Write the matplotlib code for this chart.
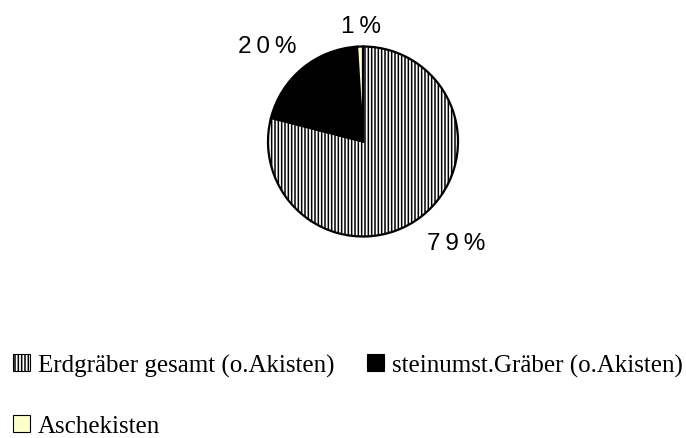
import matplotlib.pyplot as plt
from matplotlib.patches import Patch

# data
kategorien = ['Erdgräber gesamt (o.Akisten)', 'steinumst.Gräber (o.Akisten)', 'Aschekisten']
anteile = [79, 20, 1]
farben = ['white', 'black', '#FFFFCC']
schraffur = ['|||||', None, None]
# Lage der Prozentangaben (in Radien, wie im Original)
label_pos = [(0.98, -1.07), (-1.01, 1.0), (-0.02, 1.22)]

plt.rcParams['hatch.linewidth'] = 1.1

W, H = 686, 439
fig = plt.figure(figsize=(W / 100, H / 100), dpi=100)
ax = fig.add_axes([268 / W, 1 - 237.5 / H, 190 / W, 190 / H])

# gesperrte Prozentzahlen wie im Original
def prozent(p):
    return '\u2009'.join(f'{p:.0f}%')

wedges, texts, autotexts = ax.pie(
    anteile, colors=farben, startangle=90, counterclock=False,
    autopct=prozent, radius=1,
    wedgeprops=dict(edgecolor='black', linewidth=1.6),
    textprops=dict(fontsize=17.5, family='Liberation Sans'))
for w, h in zip(wedges, schraffur):
    if h:
        w.set_hatch(h)
for t, pos in zip(autotexts, label_pos):
    t.set_position(pos)
ax.set_xlim(-1, 1)
ax.set_ylim(-1, 1)
ax.set_aspect('equal')
ax.axis('off')

# legend: column-major fill -> reorder so row 1 = Erd, stein; row 2 = Asche
handles = [Patch(facecolor=f, edgecolor='black', hatch=h, linewidth=0.8)
           for f, h in zip(farben, schraffur)]
ordnung = [0, 2, 1]
fs = 18
fs_px = fs * 100 / 72


def make_legend(anchor, lsp, csp):
    return fig.legend([handles[i] for i in ordnung], [kategorien[i] for i in ordnung],
                      ncol=2, loc='upper left', bbox_to_anchor=anchor,
                      frameon=False, prop=dict(family='Liberation Serif', size=fs),
                      handlelength=0.68, handleheight=0.68, handletextpad=0.3,
                      columnspacing=csp, labelspacing=lsp, borderaxespad=0,
                      borderpad=0)


# Legende so verschieben, dass die Kästchen wie im Original liegen
ziel_erd = (13, H - 355)     # linke obere Ecke erstes Kästchen (px, von unten)
ziel_zeile = 60.5            # Zeilenabstand (etwas knapper, damit nichts abgeschnitten wird)
ziel_stein_x = 367
anchor, lsp, csp = (0.02, 0.2), 1.5, 1.4
leg = make_legend(anchor, lsp, csp)
for _ in range(3):
    fig.canvas.draw()
    bb = [hd.get_window_extent() for hd in leg.legend_handles]
    lsp += (ziel_zeile - (bb[0].y1 - bb[1].y1)) / fs_px
    csp += (ziel_stein_x - bb[2].x0) / fs_px
    anchor = (anchor[0] + (ziel_erd[0] - bb[0].x0) / W,
              anchor[1] + (ziel_erd[1] - bb[0].y1) / H)
    leg.remove()
    leg = make_legend(anchor, lsp, csp)

fig.savefig('out.png', dpi=100)
